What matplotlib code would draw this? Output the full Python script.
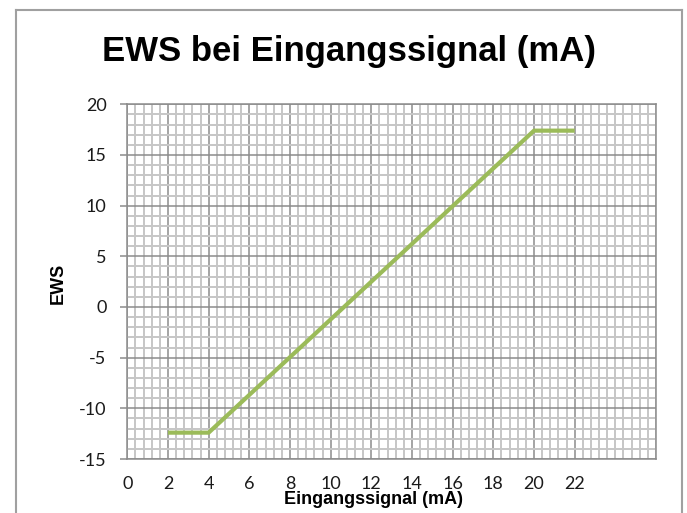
import matplotlib.pyplot as plt
from matplotlib.lines import Line2D
from matplotlib.ticker import MultipleLocator

# Eingangssignal (mA) und EWS-Werte
signal_ma = [2, 4, 20, 22]
ews = [-12.4, -12.4, 17.4, 17.4]

x_ticks = list(range(0, 24, 2))
y_ticks = list(range(-15, 25, 5))

W, H = 687, 513
fig = plt.figure(figsize=(W / 100, H / 100), dpi=100)
ax = fig.add_axes([127.3 / W, 1 - 459 / H, (656 - 127.3) / W, (459 - 104.3) / H])

# Gitter wie im Excel-Diagramm
ax.xaxis.set_minor_locator(MultipleLocator(0.4))
ax.yaxis.set_minor_locator(MultipleLocator(1))
ax.grid(which='minor', color='#c6c6c6', linewidth=1.4)
ax.grid(which='major', color='#8c8c8c', linewidth=1.1)
ax.set_axisbelow(True)

ax.plot(signal_ma, ews, color='#9bbb59', linewidth=3, solid_capstyle='butt', zorder=3)

ax.set_xlim(0, 26)
ax.set_ylim(-15, 20)
ax.set_xticks(x_ticks)
ax.set_yticks(y_ticks)
ax.set_yticklabels([str(v) for v in y_ticks])

for t in ax.get_xticklabels() + ax.get_yticklabels():
    t.set_fontfamily(['Lato', 'DejaVu Sans'])
    t.set_fontsize(13)
    t.set_color('#1a1a1a')

ax.tick_params(axis='x', which='both', length=0, pad=12)
ax.tick_params(axis='y', which='major', length=5, width=1.1, color='#8c8c8c', pad=10)
ax.tick_params(axis='y', which='minor', length=0)

for s in ax.spines.values():
    s.set_color('#8c8c8c')
    s.set_linewidth(1.1)

# Titel und Achsenbeschriftungen
fig.text(349.5 / W, 1 - 61 / H, 'EWS bei Eingangssignal (mA)', ha='center', va='baseline',
         fontsize=25, fontweight='bold', family=['Liberation Sans', 'DejaVu Sans'])
fig.text(374 / W, 1 - 500 / H, 'Eingangssignal (mA)', ha='center', va='center',
         fontsize=13, fontweight='bold', family=['Liberation Sans', 'DejaVu Sans'])
fig.text(58 / W, 1 - 283 / H, 'EWS', ha='center', va='center', rotation=90,
         fontsize=13, fontweight='bold', family=['Liberation Sans', 'DejaVu Sans'])

# Rahmen des Diagrammbereichs
fc = '#a0a0a0'
x0, x1, y0 = 15.5 / W, 681.5 / W, 1 - 9.7 / H
fig.add_artist(Line2D([x0, x0], [0, y0], color=fc, linewidth=1.5))
fig.add_artist(Line2D([x0, x1], [y0, y0], color=fc, linewidth=1.5))
fig.add_artist(Line2D([x1, x1], [0, y0], color=fc, linewidth=1.5))

fig.savefig('out.png', dpi=100)
